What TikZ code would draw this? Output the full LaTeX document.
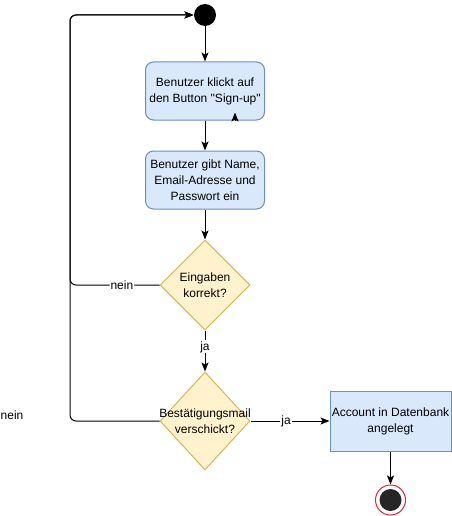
\documentclass[tikz,border=0pt]{standalone}
\usepackage{fontspec}
\setmainfont{Liberation Sans}[Ligatures=TeXOff]
\usetikzlibrary{arrows.meta,positioning,shapes.geometric}
\definecolor{actfill}{HTML}{DAE8FC}
\definecolor{actline}{HTML}{6C8EBF}
\definecolor{decfill}{HTML}{FFF2CC}
\definecolor{decline}{HTML}{D6B656}
\definecolor{endring}{HTML}{E8262A}

\begin{document}
\begin{tikzpicture}[x=1pt,y=-1pt,line width=1pt,
  font=\fontsize{12}{16}\selectfont,
  act/.style={draw=actline,fill=actfill,rounded corners=8pt,minimum width=119pt,minimum height=58pt,align=center,inner sep=2pt},
  acct/.style={draw=actline,fill=actfill,minimum width=121pt,minimum height=60pt,align=center,inner sep=1pt},
  decision/.style={diamond,draw=decline,fill=decfill,minimum width=90pt,minimum height=90pt,inner sep=0pt,align=center},
  arr/.style={-{Stealth[length=9pt,width=7pt,inset=2pt]}},
  lbl/.style={fill=white,inner sep=1pt}]
  \useasboundingbox (0,0) rectangle (451,516);
  % start, activities and decisions
  \node[circle,fill=black,minimum size=22pt,inner sep=0pt] (start) at (205,15) {};
  \node[act] (b1) at (205,91) {Benutzer klickt auf\\den Button "Sign-up"};
  \node[act] (b2) at (205,180) {Benutzer gibt Name,\\Email-Adresse und\\Passwort ein};
  \node[decision] (d1) at (205,285) {Eingaben\\korrekt?};
  \node[decision,minimum height=98pt,label={[align=center]center:Bestätigungsmail\\verschickt?}] (d2) at (205,421) {};
  \node[acct] (acc) at (390.5,421) {Account in Datenbank\\angelegt};
  \node[circle,draw=endring,fill=white,minimum size=30pt,inner sep=0pt] (stop) at (390.5,500) {};
  \node[circle,fill=black!85,minimum size=22pt,inner sep=0pt] (stopin) at (stop) {};
  \node (nein) at (12,415) {nein};

  % flow
  \draw[arr] (start) -- (b1);
  \draw[arr] (b1) -- (b2);
  \draw[arr] ([xshift=30pt]b1.south) -- ++(0,-8);
  \draw[arr] (b2) -- (d1);
  \draw[arr] (d1) -- node[lbl,pos=0.4]{ja} (d2);
  \draw[arr] (d2) -- node[lbl,pos=0.45]{ja} (acc);
  \draw[arr] (acc) -- (stop);

  % back to start
  \coordinate (back) at (70,15);
  \draw[arr,rounded corners=6pt] (d1.west) -- node[lbl,pos=0.42]{nein} (d1.west -| back) -- (back) -- (start);
  \draw[arr,rounded corners=6pt] (d2.west) -| (back) -- (start);
\end{tikzpicture}
\end{document}
